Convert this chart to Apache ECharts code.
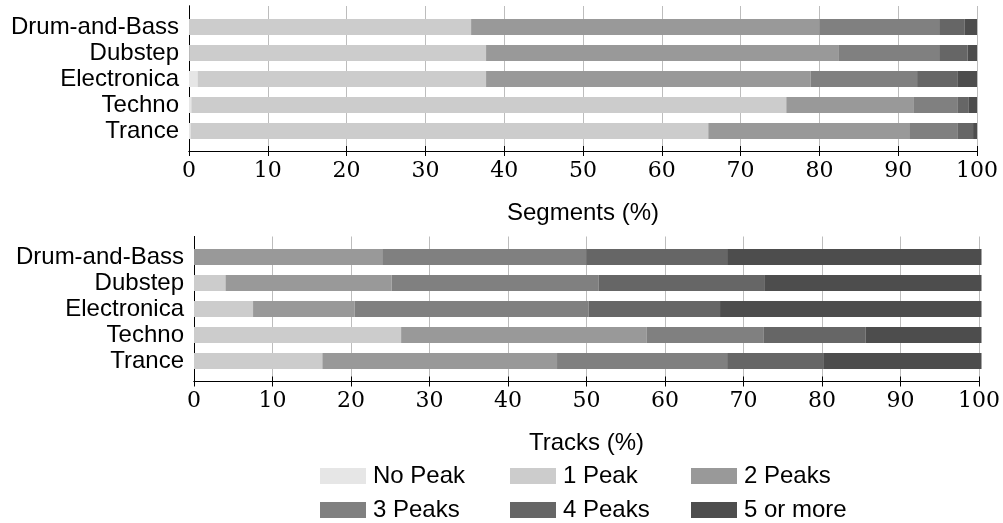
<!DOCTYPE html>
<html>
<head>
<meta charset="utf-8">
<script src="https://cdn.jsdelivr.net/npm/echarts@6/dist/echarts.min.js"></script>
<style>html,body{margin:0;padding:0;background:#fff}#c{width:1003px;height:523px}</style>
</head>
<body>
<div id="c"></div>
<script>
const categories = ['Drum-and-Bass', 'Dubstep', 'Electronica', 'Techno', 'Trance'];
const seriesNames = ['No Peak', '1 Peak', '2 Peaks', '3 Peaks', '4 Peaks', '5 or more'];
const xTicks = [0, 10, 20, 30, 40, 50, 60, 70, 80, 90, 100];

// Segments (%)
const noPeakSeg     = [0.0, 0.1, 1.1, 0.3, 0.2];
const onePeakSeg    = [35.8, 37.6, 36.6, 75.5, 65.7];
const twoPeaksSeg   = [44.2, 44.7, 41.2, 16.2, 25.5];
const threePeaksSeg = [15.2, 12.8, 13.5, 5.5, 6.1];
const fourPeaksSeg  = [3.2, 3.6, 5.1, 1.4, 2.0];
const fivePlusSeg   = [1.6, 1.2, 2.5, 1.1, 0.5];

// Tracks (%)
const noPeakTrk     = [0, 0, 0, 0, 0];
const onePeakTrk    = [0, 4.0, 7.5, 26.3, 16.3];
const twoPeaksTrk   = [23.9, 21.1, 12.9, 31.2, 29.8];
const threePeaksTrk = [25.9, 26.3, 29.7, 14.8, 21.6];
const fourPeaksTrk  = [17.9, 21.1, 16.7, 13.0, 12.2];
const fivePlusTrk   = [32.3, 27.5, 33.2, 14.7, 20.1];

const colors = ['#e6e6e6', '#cccccc', '#999999', '#808080', '#666666', '#4d4d4d'];
const segData = [noPeakSeg, onePeakSeg, twoPeaksSeg, threePeaksSeg, fourPeaksSeg, fivePlusSeg];
const trkData = [noPeakTrk, onePeakTrk, twoPeaksTrk, threePeaksTrk, fourPeaksTrk, fivePlusTrk];

const SANS = "'Liberation Sans', Arial, sans-serif";
const SERIF = "'DejaVu Serif', 'Liberation Serif', serif";
const tickMin = xTicks[0], tickMax = xTicks[xTicks.length - 1], tickStep = xTicks[1] - xTicks[0];

function frameBottomAxis(gridIndex, name) {
  return {
    type: 'value', gridIndex, position: 'bottom', min: tickMin, max: tickMax, interval: tickStep,
    name, nameLocation: 'middle', nameGap: 50,
    nameTextStyle: { fontFamily: SANS, fontSize: 24, color: '#000' },
    axisLine: { show: true, lineStyle: { color: '#000', width: 1 } },
    axisTick: { show: true, inside: true, length: 5, lineStyle: { color: '#000', width: 1 } },
    axisLabel: { fontFamily: SERIF, fontSize: 22, color: '#000', margin: 9 },
    splitLine: { show: true, lineStyle: { color: '#bdbdbd', width: 1 } }
  };
}
function frameTopAxis(gridIndex) {
  return {
    type: 'value', gridIndex, position: 'top', min: tickMin, max: tickMax, interval: tickStep,
    axisLine: { show: true, lineStyle: { color: '#000', width: 1 } },
    axisTick: { show: true, inside: true, length: 5, lineStyle: { color: '#000', width: 1 } },
    axisLabel: { show: false }, splitLine: { show: false }
  };
}
function hiddenX(gridIndex) {
  return { type: 'value', gridIndex, min: tickMin, max: tickMax, show: false };
}
function frameY(gridIndex, position) {
  return {
    type: 'value', gridIndex, position, min: 0, max: 1,
    axisLine: { show: true, lineStyle: { color: '#000', width: 1 } },
    axisTick: { show: false }, axisLabel: { show: false }, splitLine: { show: false }
  };
}
function catY(gridIndex) {
  return {
    type: 'category', gridIndex, data: categories, inverse: true,
    axisLine: { show: false }, axisTick: { show: false },
    axisLabel: { interval: 0, fontFamily: SANS, fontSize: 24, color: '#000', margin: 10 }
  };
}

const series = [];
seriesNames.forEach((n, i) => {
  series.push({
    name: n, type: 'bar', stack: 'seg', xAxisIndex: 2, yAxisIndex: 2, barWidth: 16,
    itemStyle: { color: colors[i] }, data: segData[i], z: 3
  });
});
seriesNames.forEach((n, i) => {
  series.push({
    name: n, type: 'bar', stack: 'trk', xAxisIndex: 5, yAxisIndex: 5, barWidth: 16,
    itemStyle: { color: colors[i] }, data: trkData[i], z: 3
  });
});

const legendCols = [320, 510, 691];
const legendRows = [464, 498];
const legends = seriesNames.map((n, i) => ({
  data: [n], left: legendCols[i % 3], top: legendRows[Math.floor(i / 3)],
  padding: 0, itemWidth: 46, itemHeight: 16, icon: 'rect', selectedMode: false,
  textStyle: { fontFamily: SANS, fontSize: 24, color: '#000', padding: [0, 0, 0, 2] }
}));

const chart = echarts.init(document.getElementById('c'), null, { renderer: 'canvas' });
chart.setOption({
  animation: false,
  backgroundColor: '#fff',
  grid: [
    { left: 189, top: 6, width: 788, height: 145 },
    { left: 189, top: 14, width: 788, height: 130 },
    { left: 194, top: 236.5, width: 787.5, height: 145 },
    { left: 194, top: 244, width: 787.5, height: 130 }
  ],
  xAxis: [
    frameBottomAxis(0, 'Segments (%)'), frameTopAxis(0), hiddenX(1),
    frameBottomAxis(2, 'Tracks (%)'), frameTopAxis(2), hiddenX(3)
  ],
  yAxis: [
    frameY(0, 'left'), frameY(0, 'right'), catY(1),
    frameY(2, 'left'), frameY(2, 'right'), catY(3)
  ],
  legend: legends,
  series
});
</script>
</body>
</html>
